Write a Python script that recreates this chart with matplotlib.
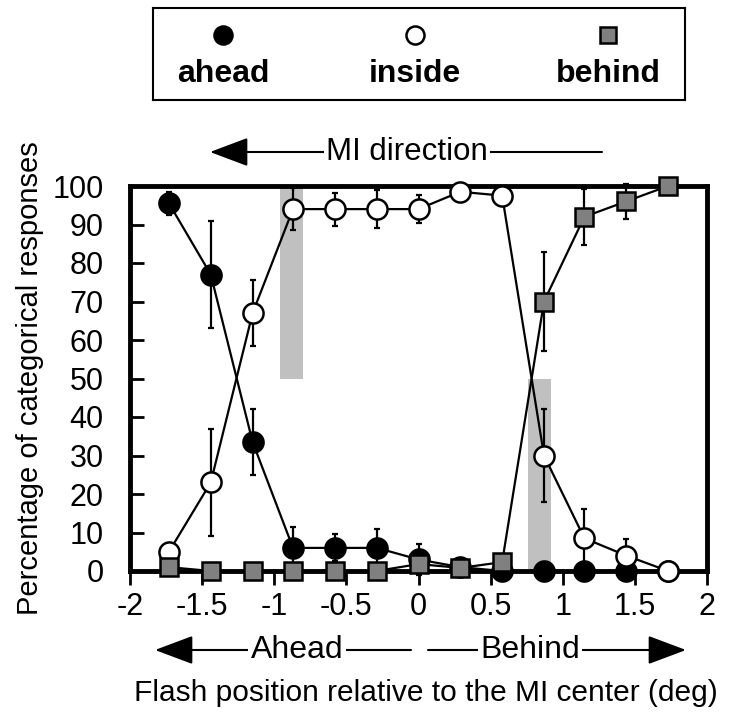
import matplotlib.pyplot as plt

plt.rcParams['font.family'] = ['Liberation Sans', 'DejaVu Sans']
plt.rcParams['axes.unicode_minus'] = False

W, H = 732, 717

# flash offsets (deg) and percent of each categorical response
flash_pos = [-1.73, -1.44, -1.15, -0.87, -0.58, -0.29, 0.0,
             0.29, 0.58, 0.87, 1.15, 1.44, 1.73]
ahead = [95.5, 77, 33.5, 6, 6, 6, 3, 1, 0, 0, 0, 0, 0]
ahead_err = [3, 14, 8.5, 5.5, 3.5, 5, 4, 0, 0, 0, 0, 0, 0]
inside = [5, 23, 67, 94, 94, 94, 94, 98.5, 97.5, 30, 8.5, 4, 0]
inside_err = [0, 14, 8.5, 5.5, 4.3, 5, 3.6, 0, 0, 12, 7.5, 4.2, 0]
behind = [1, 0, 0, 0, 0, 0, 1.8, 0.8, 2.3, 70, 92, 96, 100]
behind_err = [0, 0, 0, 0, 0, 0, 0, 0, 0, 12.8, 7.2, 4.6, 0]

# 50% crossing regions
shade_x = [(-0.96, -0.80), (0.76, 0.92)]
shade_y = [(50, 100), (0, 50)]

series_names = ['ahead', 'inside', 'behind']
xticks = [-2, -1.5, -1, -0.5, 0, 0.5, 1, 1.5, 2]
xtick_labels = ['-2', '-1.5', '-1', '-0.5', '0', '0.5', '1', '1.5', '2']
yticks = [0, 10, 20, 30, 40, 50, 60, 70, 80, 90, 100]

styles = [
    dict(marker='o', mfc='black', mec='black', ms=14.5, zorder=3),
    dict(marker='o', mfc='white', mec='black', ms=14.5, zorder=4),
    dict(marker='s', mfc='#808080', mec='black', ms=13.5, zorder=5),
]

fig = plt.figure(figsize=(W / 100, H / 100), dpi=100)
ax = fig.add_axes([130 / W, 1 - 571 / H, 577 / W, 385 / H])

for (x0, x1), (y0, y1) in zip(shade_x, shade_y):
    ax.fill_between([x0, x1], y0, y1, color='#c0c0c0', lw=0, zorder=0.5)

for vals, errs, st in zip([ahead, inside, behind],
                          [ahead_err, inside_err, behind_err], styles):
    ax.errorbar(flash_pos, vals, yerr=errs, fmt='none', ecolor='black',
                elinewidth=1.6, capsize=2, capthick=1.6, zorder=1.5,
                clip_on=False)
    ax.plot(flash_pos, vals, color='black', lw=1.6, mew=1.8,
            clip_on=False, **st)

ax.set_xlim(-2, 2)
ax.set_ylim(0, 100)
ax.set_xticks(xticks)
ax.set_xticklabels(xtick_labels)
ax.set_yticks(yticks)
ax.tick_params(axis='x', direction='out', length=10, width=2, pad=5,
               labelsize=22)
ax.tick_params(axis='y', direction='in', length=10, width=2, pad=19,
               labelsize=22)
for sp in ax.spines.values():
    sp.set_linewidth(3.5)

ax.set_ylabel('Percentage of categorical responses', fontsize=21,
              labelpad=6)
fig.text(426 / W, 1 - 693 / H,
         'Flash position relative to the MI center (deg)',
         fontsize=21.5, ha='center', va='center')


def arrow_label(text, x_tail, x_head, x_text, y, size):
    ax.annotate('', xy=(x_head, H - y), xytext=(x_tail, H - y),
                xycoords='figure pixels', textcoords='figure pixels',
                arrowprops=dict(arrowstyle='-|>,head_length=1.2,head_width=0.45',
                                mutation_scale=20, lw=1.5, color='black',
                                shrinkA=0, shrinkB=0),
                annotation_clip=False)
    fig.text(x_text / W, 1 - y / H, text, fontsize=size, ha='center',
             va='center', zorder=10,
             bbox=dict(facecolor='white', edgecolor='none', pad=1.5))


arrow_label('MI direction', 602, 210, 407, 152, 22.5)
arrow_label('Ahead', 411, 155, 297, 650, 23)
arrow_label('Behind', 428, 686, 530, 650, 23)

# legend box: marker above each label
lax = fig.add_axes([153 / W, 1 - 100 / H, 532 / W, 92 / H])
lax.set_xlim(0, 1)
lax.set_ylim(0, 1)
lax.set_xticks([])
lax.set_yticks([])
for sp in lax.spines.values():
    sp.set_linewidth(1.5)
legend_x = [0.132, 0.492, 0.855]
for name, lx, st in zip(series_names, legend_x, styles):
    lst = dict(st)
    lst['ms'] = lst['ms'] - 1.5
    lax.plot([lx], [0.707], ls='none', mew=1.8, clip_on=False, **lst)
    lax.text(lx, 0.28, name, fontsize=23, fontweight='bold',
             ha='center', va='center')

fig.savefig('out.png', dpi=100)
